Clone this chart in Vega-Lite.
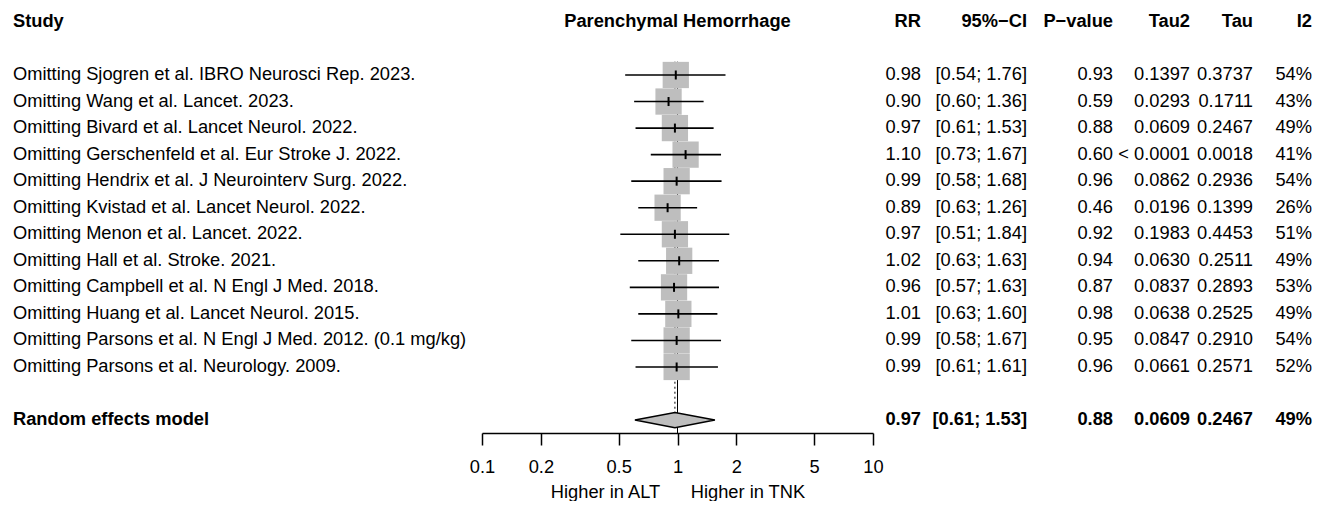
{
  "$schema": "https://vega.github.io/schema/vega-lite/v6.json",
  "width": 1338,
  "height": 433,
  "padding": 0,
  "background": "white",
  "config": {
    "view": {"stroke": null},
    "font": "Liberation Sans",
    "text": {"font": "Liberation Sans", "fontSize": 18.3, "color": "black", "baseline": "middle"},
    "axis": {"domainColor": "black", "tickColor": "black", "labelColor": "black", "titleColor": "black", "labelFont": "Liberation Sans", "titleFont": "Liberation Sans", "labelFontSize": 18.3, "titleFontSize": 18.3, "titleFontWeight": "normal", "grid": false}
  },
  "datasets": {
    "studies": [
      {"row": 1, "study": "Omitting Sjogren et al. IBRO Neurosci Rep. 2023.", "rr": 0.98, "lower": 0.54, "upper": 1.76, "p": 0.93, "tau2": 0.1397, "tau": 0.3737, "i2": 0.54},
      {"row": 2, "study": "Omitting Wang et al. Lancet. 2023.", "rr": 0.90, "lower": 0.60, "upper": 1.36, "p": 0.59, "tau2": 0.0293, "tau": 0.1711, "i2": 0.43},
      {"row": 3, "study": "Omitting Bivard et al. Lancet Neurol. 2022.", "rr": 0.97, "lower": 0.61, "upper": 1.53, "p": 0.88, "tau2": 0.0609, "tau": 0.2467, "i2": 0.49},
      {"row": 4, "study": "Omitting Gerschenfeld et al. Eur Stroke J. 2022.", "rr": 1.10, "lower": 0.73, "upper": 1.67, "p": 0.60, "tau2": 0.0000032, "tau": 0.0018, "i2": 0.41},
      {"row": 5, "study": "Omitting Hendrix et al. J Neurointerv Surg. 2022.", "rr": 0.99, "lower": 0.58, "upper": 1.68, "p": 0.96, "tau2": 0.0862, "tau": 0.2936, "i2": 0.54},
      {"row": 6, "study": "Omitting Kvistad et al. Lancet Neurol. 2022.", "rr": 0.89, "lower": 0.63, "upper": 1.26, "p": 0.46, "tau2": 0.0196, "tau": 0.1399, "i2": 0.26},
      {"row": 7, "study": "Omitting Menon et al. Lancet. 2022.", "rr": 0.97, "lower": 0.51, "upper": 1.84, "p": 0.92, "tau2": 0.1983, "tau": 0.4453, "i2": 0.51},
      {"row": 8, "study": "Omitting Hall et al. Stroke. 2021.", "rr": 1.02, "lower": 0.63, "upper": 1.63, "p": 0.94, "tau2": 0.0630, "tau": 0.2511, "i2": 0.49},
      {"row": 9, "study": "Omitting Campbell et al. N Engl J Med. 2018.", "rr": 0.96, "lower": 0.57, "upper": 1.63, "p": 0.87, "tau2": 0.0837, "tau": 0.2893, "i2": 0.53},
      {"row": 10, "study": "Omitting Huang et al. Lancet Neurol. 2015.", "rr": 1.01, "lower": 0.63, "upper": 1.60, "p": 0.98, "tau2": 0.0638, "tau": 0.2525, "i2": 0.49},
      {"row": 11, "study": "Omitting Parsons et al. N Engl J Med. 2012. (0.1 mg/kg)", "rr": 0.99, "lower": 0.58, "upper": 1.67, "p": 0.95, "tau2": 0.0847, "tau": 0.2910, "i2": 0.54},
      {"row": 12, "study": "Omitting Parsons et al. Neurology. 2009.", "rr": 0.99, "lower": 0.61, "upper": 1.61, "p": 0.96, "tau2": 0.0661, "tau": 0.2571, "i2": 0.52}
    ],
    "overall": [
      {"row": 14, "study": "Random effects model", "rr": 0.97, "lower": 0.61, "upper": 1.53, "p": 0.88, "tau2": 0.0609, "tau": 0.2467, "i2": 0.49}
    ],
    "headers": [
      {"label": "Study", "col": 0},
      {"label": "RR", "col": 1},
      {"label": "95%−CI", "col": 2},
      {"label": "P−value", "col": 3},
      {"label": "Tau2", "col": 4},
      {"label": "Tau", "col": 5},
      {"label": "I2", "col": 6}
    ]
  },
  "layer": [
    {
      "layer": [
        {
          "data": {"name": "overall"},
          "mark": {"type": "rule", "color": "black", "strokeWidth": 1},
          "encoding": {
            "x": {"datum": 1, "type": "quantitative", "scale": {"type": "log", "domain": [0.1, 10], "range": [482, 873], "nice": false},
              "axis": {"values": [0.1, 0.2, 0.5, 1, 2, 5, 10], "format": "~g", "title": "Higher in ALT\u00a0\u00a0\u00a0\u00a0\u00a0\u00a0Higher in TNK", "tickSize": 12, "domainWidth": 1.5, "tickWidth": 1.5, "labelPadding": 13, "titlePadding": 8, "labelFlush": false, "labelOverlap": false}},
            "y": {"datum": 0.5, "type": "quantitative", "scale": {"domain": [-1.825, 14.487], "reverse": true, "nice": false, "zero": false}, "axis": null},
            "y2": {"datum": 14.487}
          }
        },
        {
          "data": {"name": "overall"},
          "mark": {"type": "rule", "color": "black", "strokeWidth": 1, "strokeDash": [2, 3]},
          "encoding": {
            "x": {"field": "rr", "type": "quantitative"},
            "y": {"datum": 0.5, "type": "quantitative", "axis": null},
            "y2": {"datum": 13.7}
          }
        },
        {
          "data": {"name": "studies"},
          "mark": {"type": "point", "shape": "square", "filled": true, "size": 690, "color": "#bebebe", "opacity": 1, "strokeWidth": 0},
          "encoding": {
            "x": {"field": "rr", "type": "quantitative"},
            "y": {"field": "row", "type": "quantitative", "axis": null}
          }
        },
        {
          "data": {"name": "studies"},
          "mark": {"type": "rule", "color": "black", "strokeWidth": 1.6},
          "encoding": {
            "x": {"field": "lower", "type": "quantitative"},
            "x2": {"field": "upper"},
            "y": {"field": "row", "type": "quantitative", "axis": null}
          }
        },
        {
          "data": {"name": "studies"},
          "mark": {"type": "tick", "orient": "vertical", "color": "black", "size": 9, "thickness": 2, "opacity": 1},
          "encoding": {
            "x": {"field": "rr", "type": "quantitative"},
            "y": {"field": "row", "type": "quantitative", "axis": null}
          }
        },
        {
          "data": {"name": "overall"},
          "mark": {"type": "point", "shape": "M-1,0L0,-0.19L1,0L0,0.19Z", "filled": true, "size": 6400, "fill": "#bebebe", "stroke": "black", "strokeWidth": 1.5, "opacity": 1},
          "encoding": {
            "x": {"field": "rr", "type": "quantitative"},
            "y": {"field": "row", "type": "quantitative", "axis": null}
          }
        },
        {
          "data": {"name": "overall"},
          "mark": {"type": "text", "fontWeight": "bold", "align": "center"},
          "encoding": {
            "x": {"datum": 1, "type": "quantitative"},
            "y": {"datum": -1, "type": "quantitative", "axis": null},
            "text": {"value": "Parenchymal Hemorrhage"}
          }
        }
      ]
    },
    {
      "layer": [
        {
          "data": {"name": "headers"},
          "transform": [{"filter": "datum.col == 0"}],
          "mark": {"type": "text", "fontWeight": "bold", "align": "left"},
          "encoding": {
            "x": {"field": "col", "type": "quantitative", "scale": {"type": "linear", "domain": [0, 1, 2, 3, 4, 5, 6], "range": [13, 921, 1027, 1113, 1190, 1253, 1312], "nice": false, "zero": false}, "axis": null},
            "y": {"datum": -1, "type": "quantitative", "axis": null},
            "text": {"field": "label"}
          }
        },
        {
          "data": {"name": "headers"},
          "transform": [{"filter": "datum.col > 0"}],
          "mark": {"type": "text", "fontWeight": "bold", "align": "right"},
          "encoding": {
            "x": {"field": "col", "type": "quantitative", "axis": null},
            "y": {"datum": -1, "type": "quantitative", "axis": null},
            "text": {"field": "label"}
          }
        },
        {
          "data": {"name": "studies"},
          "mark": {"type": "text", "align": "left"},
          "encoding": {
            "x": {"datum": 0, "type": "quantitative", "axis": null},
            "y": {"field": "row", "type": "quantitative", "axis": null},
            "text": {"field": "study"}
          }
        },
        {
          "data": {"name": "overall"},
          "mark": {"type": "text", "align": "left", "fontWeight": "bold"},
          "encoding": {
            "x": {"datum": 0, "type": "quantitative", "axis": null},
            "y": {"field": "row", "type": "quantitative", "axis": null},
            "text": {"field": "study"}
          }
        },
        {
          "data": {"name": "studies"},
          "transform": [
            {"calculate": "format(datum.rr, '.2f')", "as": "t_rr"},
            {"calculate": "'[' + format(datum.lower, '.2f') + '; ' + format(datum.upper, '.2f') + ']'", "as": "t_ci"},
            {"calculate": "format(datum.p, '.2f')", "as": "t_p"},
            {"calculate": "datum.tau2 < 0.0001 ? '< 0.0001' : format(datum.tau2, '.4f')", "as": "t_tau2"},
            {"calculate": "format(datum.tau, '.4f')", "as": "t_tau"},
            {"calculate": "format(datum.i2, '.0%')", "as": "t_i2"},
            {"fold": ["t_rr", "t_ci", "t_p", "t_tau2", "t_tau", "t_i2"], "as": ["key", "val"]},
            {"calculate": "indexof(['t_rr', 't_ci', 't_p', 't_tau2', 't_tau', 't_i2'], datum.key) + 1", "as": "colIdx"}
          ],
          "mark": {"type": "text", "align": "right"},
          "encoding": {
            "x": {"field": "colIdx", "type": "quantitative", "axis": null},
            "y": {"field": "row", "type": "quantitative", "axis": null},
            "text": {"field": "val"}
          }
        },
        {
          "data": {"name": "overall"},
          "transform": [
            {"calculate": "format(datum.rr, '.2f')", "as": "t_rr"},
            {"calculate": "'[' + format(datum.lower, '.2f') + '; ' + format(datum.upper, '.2f') + ']'", "as": "t_ci"},
            {"calculate": "format(datum.p, '.2f')", "as": "t_p"},
            {"calculate": "datum.tau2 < 0.0001 ? '< 0.0001' : format(datum.tau2, '.4f')", "as": "t_tau2"},
            {"calculate": "format(datum.tau, '.4f')", "as": "t_tau"},
            {"calculate": "format(datum.i2, '.0%')", "as": "t_i2"},
            {"fold": ["t_rr", "t_ci", "t_p", "t_tau2", "t_tau", "t_i2"], "as": ["key", "val"]},
            {"calculate": "indexof(['t_rr', 't_ci', 't_p', 't_tau2', 't_tau', 't_i2'], datum.key) + 1", "as": "colIdx"}
          ],
          "mark": {"type": "text", "align": "right", "fontWeight": "bold"},
          "encoding": {
            "x": {"field": "colIdx", "type": "quantitative", "axis": null},
            "y": {"field": "row", "type": "quantitative", "axis": null},
            "text": {"field": "val"}
          }
        }
      ]
    }
  ],
  "resolve": {"scale": {"x": "independent"}}
}
